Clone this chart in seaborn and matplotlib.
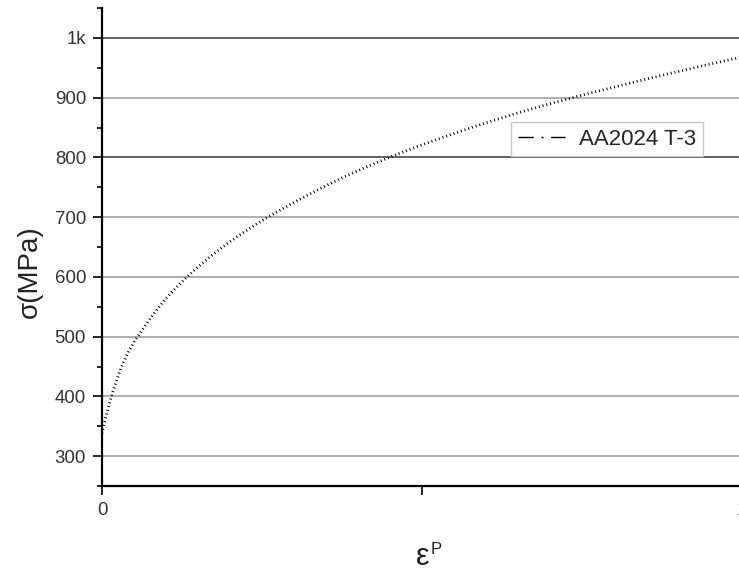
import matplotlib
matplotlib.use("Agg")
import matplotlib.pyplot as plt
from matplotlib.lines import Line2D
import seaborn as sns

# plastic strain and flow stress
strain = [
    0.0, 0.005, 0.01, 0.015, 0.02, 0.03, 0.04, 0.05, 0.06, 0.07, 0.08, 0.09,
    0.10, 0.11, 0.12, 0.13, 0.14, 0.15, 0.16, 0.17, 0.18, 0.19,
    0.20, 0.21, 0.22, 0.23, 0.24, 0.25, 0.26, 0.27, 0.28, 0.29,
    0.30, 0.31, 0.32, 0.33, 0.34, 0.35, 0.36, 0.37, 0.38, 0.39,
    0.40, 0.41, 0.42, 0.43, 0.44, 0.45, 0.46, 0.47, 0.48, 0.49,
    0.50, 0.51, 0.52, 0.53, 0.54, 0.55, 0.56, 0.57, 0.58, 0.59,
    0.60, 0.61, 0.62, 0.63, 0.64, 0.65, 0.66, 0.67, 0.68, 0.69,
    0.70, 0.71, 0.72, 0.73, 0.74, 0.75, 0.76, 0.77, 0.78, 0.79,
    0.80, 0.81, 0.82, 0.83, 0.84, 0.85, 0.86, 0.87, 0.88, 0.89,
    0.90, 0.91, 0.92, 0.93, 0.94, 0.95, 0.96, 0.97, 0.98, 0.99, 1.00,
]
stress = [
    338, 362, 382, 401, 418, 448, 472, 491, 507, 522, 537, 551,
    564, 575.5, 586.5, 597, 607, 616.6, 625.8, 634.6, 643, 651.1,
    658.9, 666.4, 673.6, 680.6, 687.4, 694, 700.4, 706.6, 712.7, 718.7,
    724.6, 730.4, 736.1, 741.7, 747.2, 752.6, 757.9, 763.0, 768.0, 772.9,
    777.7, 782.4, 787.0, 791.5, 795.9, 800.2, 804.7, 808.8, 812.9, 816.9,
    820.9, 824.8, 828.6, 832.4, 836.2, 839.9, 843.6, 847.2, 850.8, 854.3,
    857.8, 861.2, 864.6, 867.9, 871.2, 874.4, 877.6, 880.7, 883.8, 886.8,
    889.8, 892.7, 895.6, 898.4, 901.2, 904.0, 906.8, 909.5, 912.2, 914.9,
    917.6, 920.3, 923.0, 925.6, 928.2, 930.8, 933.4, 936.0, 938.6, 941.1,
    943.6, 946.1, 948.6, 951.1, 953.6, 956.0, 958.4, 960.8, 963.2, 965.6, 968.0,
]
series_label = "AA2024 T-3"
y_major = [300, 400, 500, 600, 700, 800, 900, 1000]
y_labels = ["300", "400", "500", "600", "700", "800", "900", "1k"]
y_minor = [250, 350, 450, 550, 650, 750, 850, 950, 1050]
x_major = [0, 0.5, 1]
x_labels = ["0", "", "1"]


def main() -> None:
    sns.set_theme(style="white")
    plt.rcParams["font.family"] = ["Liberation Sans", "DejaVu Sans"]

    W, H = 739, 572
    fig = plt.figure(figsize=(W / 100, H / 100), dpi=100)
    ax = fig.add_axes([102 / W, 86 / H, 640 / W, 478 / H])

    sns.lineplot(x=strain, y=stress, ax=ax, color="black", linewidth=2.0,
                 linestyle=(0, (0.35, 1.05)), dash_capstyle="butt",
                 label=series_label, zorder=3)

    ax.set_xlim(0, 1)
    ax.set_ylim(250, 1050)
    ax.set_yticks(y_major)
    ax.set_yticklabels(y_labels, fontsize=13.4)
    ax.set_yticks(y_minor, minor=True)
    ax.set_xticks(x_major)
    ax.set_xticklabels(x_labels, fontsize=13.4)

    ax.tick_params(axis="both", which="major", direction="out", length=6.5,
                   width=1.2, color="black", labelcolor="#333333", pad=5,
                   left=True, bottom=True)
    ax.tick_params(axis="y", which="minor", direction="out", length=3.6,
                   width=1.2, color="black", left=True)

    ax.grid(axis="y", which="major", color="#a8a8a8", linewidth=1.3)
    for val, gl in zip(y_major, ax.yaxis.get_gridlines()):
        if val in (800, 1000):
            gl.set_color("#555555")
    ax.set_axisbelow(True)

    for side in ("top", "right"):
        ax.spines[side].set_visible(False)
    for side in ("left", "bottom"):
        ax.spines[side].set_color("black")
        ax.spines[side].set_linewidth(1.6)

    ax.set_xlabel("")
    ax.set_ylabel("σ(MPa)", fontsize=20, color="#222222", va="center")
    ax.yaxis.set_label_coords(-0.1125, 0.448)

    fig.text(422.5 / W, 1 - 565 / H, "ε", fontsize=22, color="#222222",
             ha="center", va="baseline")
    fig.text(431 / W, 1 - 554 / H, "P", fontsize=12, color="#222222",
             ha="left", va="baseline")

    handle = Line2D([], [], color="black", linewidth=1.0,
                    linestyle=(0, (11, 5.5, 1.5, 5.5)))
    leg = ax.legend([handle], [series_label], loc="upper right",
                    bbox_to_anchor=(703 / W, 1 - 122 / H),
                    bbox_transform=fig.transFigure, borderaxespad=0,
                    fontsize=16, handlelength=2.13, handletextpad=0.62,
                    borderpad=0.3, fancybox=False, framealpha=1,
                    edgecolor="#c8c8c8")
    leg.get_frame().set_linewidth(1.0)

    fig.savefig("out.png", dpi=100)
    plt.close(fig)


if __name__ == "__main__":
    main()
